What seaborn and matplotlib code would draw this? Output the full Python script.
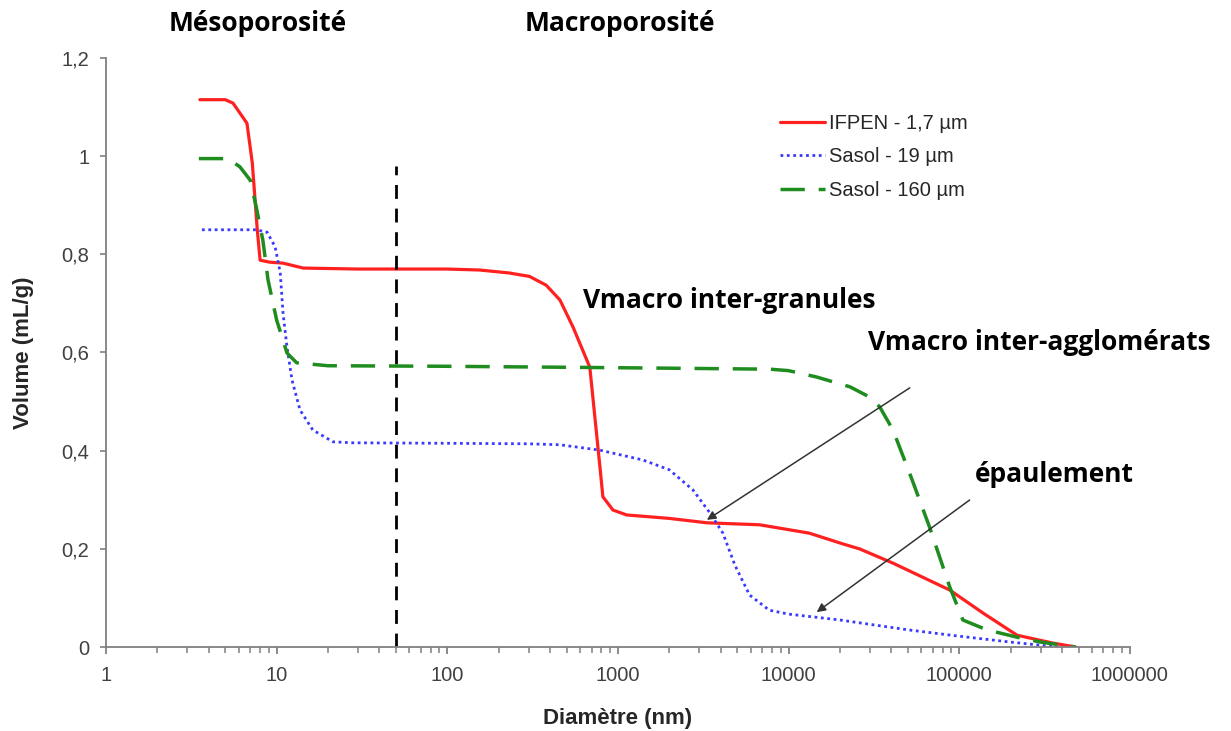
import pandas as pd
import matplotlib.pyplot as plt
import matplotlib.ticker as mticker
import seaborn as sns

# data (diameter in nm, cumulative volume in mL/g)
x_ifpen = [3.55, 5.0, 5.55, 6.7, 7.2, 7.7, 8.0, 9.1, 10.9, 14.3, 30, 100, 155, 230, 303, 380,
           457, 545, 684, 732, 784, 816, 935, 1125, 2000, 3330, 6760, 13200, 20800, 26000,
           40800, 88000, 138000, 218000, 354000, 480000]
v_ifpen = [1.115, 1.115, 1.108, 1.067, 0.986, 0.85, 0.788, 0.784, 0.782, 0.772, 0.770, 0.770,
           0.768, 0.762, 0.755, 0.737, 0.707, 0.652, 0.570, 0.469, 0.367, 0.306, 0.279, 0.269,
           0.262, 0.253, 0.249, 0.232, 0.210, 0.200, 0.171, 0.116, 0.069, 0.024, 0.008, 0.0]

x_sasol19 = [3.65, 7.6, 8.8, 9.8, 10.5, 10.9, 11.5, 12.3, 13.7, 16.3, 21.4, 28, 100, 300, 457,
             784, 1400, 2000, 2750, 3460, 4120, 4840, 5900, 7700, 10000, 20000, 50000, 100000,
             200000, 380000]
v_sasol19 = [0.85, 0.85, 0.845, 0.815, 0.762, 0.68, 0.611, 0.544, 0.483, 0.442, 0.418, 0.416,
             0.415, 0.414, 0.412, 0.401, 0.381, 0.361, 0.32, 0.273, 0.232, 0.167, 0.106, 0.075,
             0.067, 0.055, 0.035, 0.022, 0.01, 0.0]

x_sasol160 = [3.5, 5.2, 6.1, 7.0, 7.6, 8.3, 8.9, 10, 11.5, 13.1, 20, 90, 457, 2000, 7760, 10000,
              14600, 22900, 29900, 34200, 40900, 53000, 67000, 88000, 105000, 145000, 218000,
              300000, 480000]
v_sasol160 = [0.995, 0.995, 0.978, 0.951, 0.896, 0.829, 0.748, 0.666, 0.599, 0.579, 0.573,
              0.572, 0.570, 0.568, 0.566, 0.563, 0.550, 0.530, 0.509, 0.489, 0.442, 0.340, 0.244,
              0.122, 0.055, 0.035, 0.020, 0.010, 0.0]

labels = ['IFPEN - 1,7 µm', 'Sasol - 19 µm', 'Sasol - 160 µm']
x_ticks = [1, 10, 100, 1000, 10000, 100000, 1000000]
y_ticks = [0, 0.2, 0.4, 0.6, 0.8, 1.0, 1.2]
limit_meso = 50

sns.set_style('white')
plt.rcParams['font.family'] = ['Liberation Sans', 'DejaVu Sans']

fig = plt.figure(figsize=(12.31, 7.31), dpi=100)
ax = fig.add_axes([0.0861, 0.1149, 0.8318, 0.8058])

sns.lineplot(x=x_ifpen, y=v_ifpen, ax=ax, color='#ff2020', lw=2.3, sort=False,
             estimator=None, label=labels[0])
sns.lineplot(x=x_sasol19, y=v_sasol19, ax=ax, color='#3a3aff', lw=2, sort=False,
             estimator=None, label=labels[1], linestyle=(0, (1, 1.3)))
sns.lineplot(x=x_sasol160, y=v_sasol160, ax=ax, color='#1e8c1e', lw=2.5, sort=False,
             estimator=None, label=labels[2], linestyle=(0, (7, 4)))

# meso / macro boundary
ax.plot([limit_meso, limit_meso], [0, 0.98], color='black', lw=2, linestyle=(0, (5, 3.5)))

ax.set_xscale('log')
ax.set_xlim(1, 1e6)
ax.set_ylim(0, 1.2)
ax.set_yticks(y_ticks)
ax.yaxis.set_major_formatter(mticker.FuncFormatter(lambda v, p: f'{v:g}'.replace('.', ',')))
ax.xaxis.set_major_locator(mticker.FixedLocator(x_ticks))
ax.xaxis.set_minor_locator(mticker.LogLocator(base=10, subs=range(2, 10), numticks=20))
ax.xaxis.set_minor_formatter(mticker.NullFormatter())
ax.xaxis.set_major_formatter(mticker.FuncFormatter(lambda v, p: f'{int(round(v))}'))

for s in ['top', 'right']:
    ax.spines[s].set_visible(False)
for s in ['left', 'bottom']:
    ax.spines[s].set_color('#808080')
    ax.spines[s].set_linewidth(1.3)
ax.tick_params(axis='both', which='both', direction='out', color='#808080',
               bottom=True, left=True, labelsize=14.5, labelcolor='#404040')
ax.tick_params(axis='x', which='major', length=5, width=1.3, pad=9)
ax.tick_params(axis='x', which='minor', length=4, width=1.1)
ax.tick_params(axis='y', which='major', length=4, width=1.2, pad=8)

ax.set_xlabel('Diamètre (nm)', fontsize=16, fontweight='bold', labelpad=16)
ax.set_ylabel('Volume (mL/g)', fontsize=16, fontweight='bold', labelpad=20)

ax.legend(loc='upper left', bbox_to_anchor=(0.641, 0.935), frameon=False, fontsize=14.5,
          handlelength=2.2, handletextpad=0.2, labelspacing=0.7)

# annotations
bold = dict(fontsize=19, fontweight='bold', family=['Open Sans', 'DejaVu Sans'], color='black')
fig.text(0.2096, 0.968, 'Mésoporosité', ha='center', va='center', **bold)
fig.text(0.5037, 0.968, 'Macroporosité', ha='center', va='center', **bold)
fig.text(0.4736, 0.589, 'Vmacro inter-granules', ha='left', va='center', **bold)
fig.text(0.7051, 0.532, 'Vmacro inter-agglomérats', ha='left', va='center', **bold)
fig.text(0.792, 0.351, 'épaulement', ha='left', va='center', **bold)

arrow = dict(arrowstyle='-|>', color='#333333', lw=1.1, mutation_scale=13, shrinkA=0, shrinkB=0)
ax.annotate('', xy=(3320, 0.259), xytext=(51300, 0.528), arrowprops=arrow)
ax.annotate('', xy=(14600, 0.071), xytext=(115000, 0.2995), arrowprops=arrow)

fig.savefig('out.png', dpi=100)
